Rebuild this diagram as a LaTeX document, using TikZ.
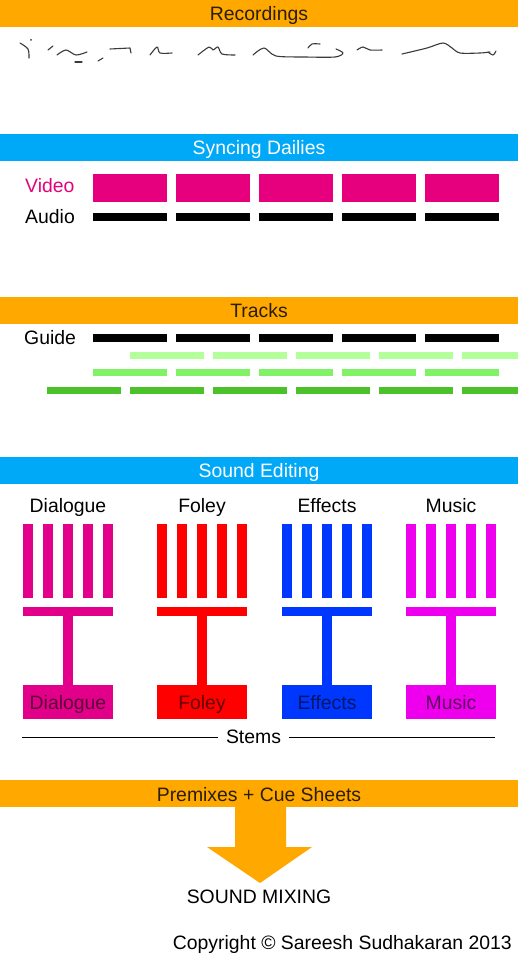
\documentclass[tikz,border=0pt]{standalone}
\usepackage{fontspec}
\setmainfont{Liberation Sans}
\begin{document}
\definecolor{bannerorange}{HTML}{FFA800}
\definecolor{bannerblue}{HTML}{00A8F8}
\definecolor{bannertext}{HTML}{2A1E08}
\definecolor{vidmag}{HTML}{E6007E}
\definecolor{dlgcol}{HTML}{E2008A}
\definecolor{foleycol}{HTML}{FF0000}
\definecolor{fxcol}{HTML}{0037FF}
\definecolor{muscol}{HTML}{EE00EE}
\definecolor{glight}{HTML}{B3FF99}
\definecolor{gmid}{HTML}{80F266}
\definecolor{gdark}{HTML}{4CC22A}
\definecolor{inkgray}{HTML}{3A3A3A}
\tikzset{
  txt/.style={font=\fontsize{19.4}{22}\selectfont, inner sep=0pt, anchor=base},
  banner/.style={anchor=north west, minimum width=518pt, minimum height=27pt,
    inner sep=0pt, fill=#1},
  seg/.style={anchor=north west, inner sep=0pt, minimum width=74pt, fill=#1},
  vbar/.style={anchor=north west, inner sep=0pt, minimum width=10pt, minimum height=74pt, fill=#1},
  hbar/.style={anchor=north west, inner sep=0pt, minimum width=90pt, minimum height=9pt, fill=#1},
  stembox/.style={anchor=north west, inner sep=0pt, minimum width=90pt, minimum height=34pt, fill=#1},
  stemline/.style={line width=10pt, draw=#1},
  ink/.style={draw=inkgray, line width=1.1pt, line cap=round, line join=round},
}
\begin{tikzpicture}[x=1pt,y=-1pt]
\useasboundingbox (0,0) rectangle (518,960);
\fill[white] (0,0) rectangle (518,960);

% ---------- Recordings ----------
\node[banner=bannerorange] (recb) at (0,0) {};
\node[txt, text=bannertext] (rect) at (259,21) {Recordings};
\fill[inkgray] (31,40) circle (1pt);
\draw[ink] plot[smooth] coordinates {(20,43) (28,49) (29,58)};
\draw[ink] (48,50) -- (53,46);
\draw[ink] plot[smooth] coordinates {(57,55) (66,50) (76,55) (87,52)};
\draw[ink] (75,62) -- (82,62);
\draw[ink] (98,61) -- (103,58);
\draw[ink] plot coordinates {(110,49) (130,48) (131,53)};
\draw[ink] plot[smooth] coordinates {(150,55) (157,47) (160,53) (172,53)};
\draw[ink] plot[smooth] coordinates {(198,55) (209,47) (213,50) (218,47) (222,54) (235,55)};
\draw[ink] plot[smooth] coordinates {(253,55) (264,48) (276,56) (305,57) (335,57) (343,53) (336,49)};
\draw[ink] plot[smooth] coordinates {(308,48) (312,44) (320,44)};
\draw[ink] plot[smooth] coordinates {(357,50) (363,47) (370,50) (382,50)};
\draw[ink] plot[smooth] coordinates {(402,54) (427,48) (443,43) (452,48) (460,53) (480,53) (490,52)};
\draw[ink] plot[smooth] coordinates {(488,52) (493,55) (496,51)};

% ---------- Syncing Dailies ----------
\node[banner=bannerblue] (syncb) at (0,134) {};
\node[txt, text=white] (synct) at (259,155) {Syncing Dailies};
\node[txt, anchor=base west, text=vidmag] (videol) at (25,193) {Video};
\node[txt, anchor=base west] (audiol) at (25,223) {Audio};
\foreach \i/\x in {1/93,2/176,3/259,4/342,5/425}{
  \node[seg=vidmag, minimum height=28pt] (vid\i) at (\x,174) {};
  \node[seg=black, minimum height=8pt] (aud\i) at (\x,213) {};
}

% ---------- Tracks ----------
\node[banner=bannerorange] (trackb) at (0,297) {};
\node[txt, text=bannertext] (trackt) at (259,317) {Tracks};
\node[txt, anchor=base west] (guidel) at (24,344) {Guide};
\foreach \i/\x in {1/93,2/176,3/259,4/342,5/425}{
  \node[seg=black, minimum height=8pt] (gd\i) at (\x,334) {};
  \node[seg=gmid, minimum height=7pt] (gm\i) at (\x,369) {};
}
\foreach \i/\x in {1/130,2/213,3/296,4/379,5/462}{
  \node[seg=glight, minimum height=7pt] (gl\i) at (\x,352) {};
}
\foreach \i/\x in {1/47,2/130,3/213,4/296,5/379,6/462}{
  \node[seg=gdark, minimum height=7pt] (gk\i) at (\x,387) {};
}

% ---------- Sound Editing ----------
\node[banner=bannerblue] (editb) at (0,457) {};
\node[txt, text=white] (editt) at (259,477) {Sound Editing};
\foreach \n/\L/\c/\t in {dlg/23/dlgcol/Dialogue, fol/157/foleycol/Foley, efx/282/fxcol/Effects, mus/406/muscol/Music}{
  \node[txt] (\n lab) at (\L+45,512.5) {\t};
  \foreach \k in {0,...,4}{
    \node[vbar=\c] (\n bar\k) at (\L+20*\k,524) {};
  }
  \node[hbar=\c] (\n hb) at (\L,607) {};
  \node[stembox=\c] (\n box) at (\L,685) {};
  \node[txt, text=\c!40!black] (\n boxt) at (\L+45,709) {\t};
  \draw[stemline=\c] (\n hb.south) -- (\n box.north);
}

% Stems line
\node[txt, inner xsep=8pt] (stems) at (253.5,743) {Stems};
\coordinate (stl) at (22,737);
\coordinate (str) at (495,737);
\draw[line width=0.9pt] (stl) -- (stl -| stems.west);
\draw[line width=0.9pt] (str -| stems.east) -- (str);

% ---------- Premixes ----------
\node[banner=bannerorange] (premb) at (0,780) {};
\node[txt, text=bannertext] (premt) at (259,801) {Premixes + Cue Sheets};
\fill[bannerorange] (235,806) -- (286,806) -- (286,847) -- (312,847) -- (260,883)
  -- (207,847) -- (235,847) -- cycle;
\node[txt] (mixing) at (259,903) {SOUND MIXING};
\node[txt, anchor=base east] (copy) at (512,949) {Copyright © Sareesh Sudhakaran 2013};
\end{tikzpicture}
\end{document}
